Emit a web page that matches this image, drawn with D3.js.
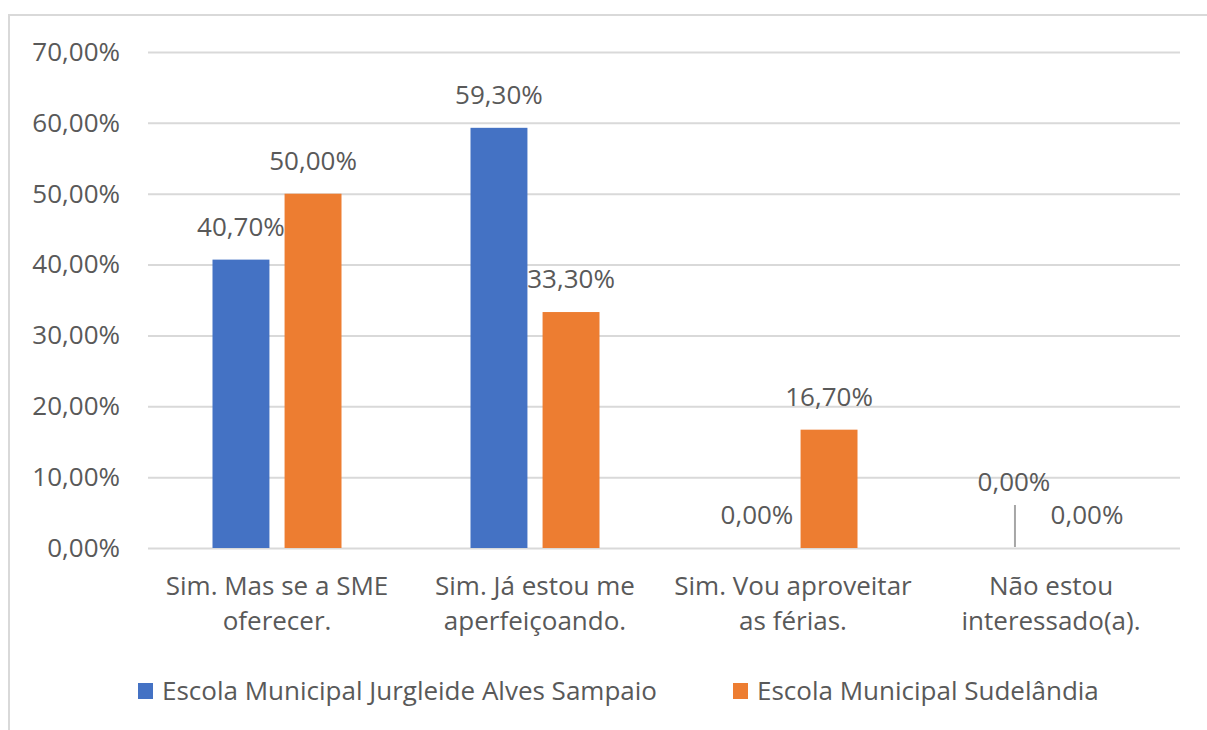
<!DOCTYPE html>
<html>
<head>
<meta charset="utf-8">
<script src="https://cdn.jsdelivr.net/npm/d3@7"></script>
<style>
  body { margin: 0; background: #fff; }
  svg text { font-family: "Open Sans", sans-serif; fill: #595959; }
</style>
</head>
<body>
<svg id="chart" width="1207" height="730"></svg>
<script>
// data
var categories = ["Sim. Mas se a SME oferecer.", "Sim. Já estou me aperfeiçoando.", "Sim. Vou aproveitar as férias.", "Não estou interessado(a)."];
var categoryLines = [["Sim. Mas se a SME", "oferecer."], ["Sim. Já estou me", "aperfeiçoando."], ["Sim. Vou aproveitar", "as férias."], ["Não estou", "interessado(a)."]];
var seriesNames = ["Escola Municipal Jurgleide Alves Sampaio", "Escola Municipal Sudelândia"];
var jurgleide = [0.407, 0.593, 0, 0];
var sudelandia = [0.50, 0.333, 0.167, 0];
var yTicks = [0, 0.1, 0.2, 0.3, 0.4, 0.5, 0.6, 0.7];

var colors = ["#4472C4", "#ED7D31"];
var fmt = function(v){ return d3.format(".2f")(v*100).replace(".", ",") + "%"; };

var svg = d3.select("#chart");

// outer frame (only top and left edges are visible in the crop)
svg.append("path")
    .attr("d", "M9,730 V15 H1207")
    .attr("fill", "none")
    .attr("stroke", "#d9d9d9")
    .attr("stroke-width", 2);

var margin = {top: 52, left: 148, bottom: 182, right: 27};
var width = 1207 - margin.left - margin.right;
var height = 730 - margin.top - margin.bottom;

var g = svg.append("g")
    .attr("transform", "translate(" + margin.left + "," + margin.top + ")");

var xScale = d3.scaleBand().domain(categories).range([0, width]);
var x1 = d3.scaleBand().domain([0, 1])
    .range([xScale.bandwidth()/4, xScale.bandwidth()*3/4])
    .paddingInner(0.21);
var yScale = d3.scaleLinear().domain([0, 0.7]).range([height, 0]);

// gridlines + y labels
var yAxis = d3.axisLeft(yScale)
    .tickValues(yTicks)
    .tickSize(-width)
    .tickPadding(28)
    .tickFormat(fmt);

var ya = g.append("g").call(yAxis);
ya.select(".domain").remove();
ya.selectAll("line").attr("stroke", "#d9d9d9").attr("stroke-width", 2);
ya.selectAll("text").style("font-size", "26px");

// x labels
var xAxis = d3.axisBottom(xScale).tickSize(0).tickFormat("");
var xa = g.append("g")
    .attr("transform", "translate(0," + height + ")")
    .call(xAxis);
xa.select(".domain").remove();
xa.selectAll(".tick").each(function(d, i){
    var t = d3.select(this).append("text")
        .attr("text-anchor", "middle")
        .style("font-size", "26px");
    categoryLines[i].forEach(function(line, j){
        t.append("tspan").attr("x", 0).attr("y", 47 + j*35).text(line);
    });
});

// bars
var slices = [jurgleide, sudelandia].map(function(vals, s){
    return vals.map(function(v, i){ return {s: s, cat: categories[i], ci: i, value: v}; });
});

var groups = g.selectAll(".series")
    .data(slices)
    .enter()
    .append("g")
    .attr("class", "series")
    .attr("fill", function(d, s){ return colors[s]; });

groups.selectAll("rect")
    .data(function(d){ return d; })
    .enter()
    .append("rect")
    .attr("x", function(d){ return xScale(d.cat) + x1(d.s); })
    .attr("y", function(d){ return yScale(d.value); })
    .attr("width", x1.bandwidth())
    .attr("height", function(d){ return height - yScale(d.value); });

// data labels (Excel pushed one overlapping zero label up with a leader line)
var lifted = {s: 0, ci: 3, dy: 33};
var labels = g.append("g");
slices.forEach(function(sl){
    sl.forEach(function(d){
        var cx = xScale(d.cat) + x1(d.s) + x1.bandwidth()/2;
        var yb = yScale(d.value) - 24;
        var moved = (d.s === lifted.s && d.ci === lifted.ci);
        if (moved) {
            yb -= lifted.dy;
            labels.append("line")
                .attr("x1", cx).attr("x2", cx)
                .attr("y1", yScale(d.value) - 43).attr("y2", yScale(d.value) - 1)
                .attr("stroke", "#a6a6a6")
                .attr("stroke-width", 2);
        }
        labels.append("text")
            .attr("x", moved ? cx - 1 : cx)
            .attr("y", yb)
            .attr("text-anchor", "middle")
            .style("font-size", "26px")
            .text(fmt(d.value));
    });
});

// legend
var legendX = [138, 733];
var legend = svg.selectAll(".legend")
    .data(seriesNames)
    .enter()
    .append("g")
    .attr("class", "legend")
    .attr("transform", function(d, i){ return "translate(" + legendX[i] + ",683)"; });

legend.append("rect")
    .attr("width", 15).attr("height", 16)
    .attr("fill", function(d, i){ return colors[i]; });

legend.append("text")
    .attr("x", 24)
    .attr("y", 17)
    .style("font-size", "26px")
    .text(function(d){ return d; });
</script>
</body>
</html>
